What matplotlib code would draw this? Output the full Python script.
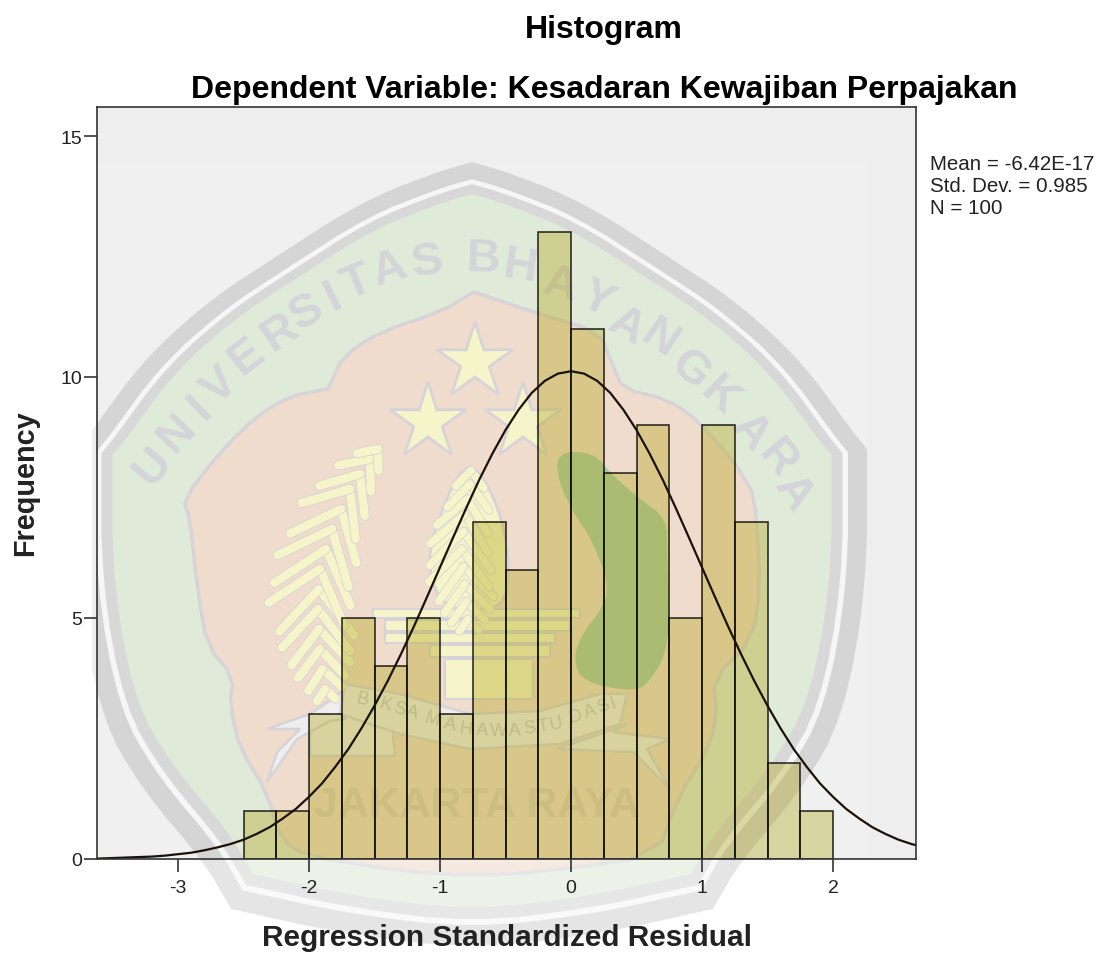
from matplotlib import pyplot as plt
from matplotlib import patheffects as pe
from matplotlib.patches import Polygon, Rectangle
import numpy as np

# data
bin_lefts = [-2.5, -2.25, -2.0, -1.75, -1.5, -1.25, -1.0, -0.75, -0.5, -0.25,
             0.0, 0.25, 0.5, 0.75, 1.0, 1.25, 1.5, 1.75]
freqs = [1, 1, 3, 5, 4, 5, 3, 7, 6, 13, 11, 8, 9, 5, 9, 7, 2, 1]
bin_width = 0.25

curve_x = [-3.7, -3.6, -3.5, -3.4, -3.3, -3.2, -3.1, -3.0, -2.9, -2.8, -2.7, -2.6, -2.5, -2.4,
           -2.3, -2.2, -2.1, -2.0, -1.9, -1.8, -1.7, -1.6, -1.5, -1.4, -1.3, -1.2, -1.1, -1.0,
           -0.9, -0.8, -0.7, -0.6, -0.5, -0.4, -0.3, -0.2, -0.1, 0.0, 0.1, 0.2, 0.3, 0.4, 0.5,
           0.6, 0.7, 0.8, 0.9, 1.0, 1.1, 1.2, 1.3, 1.4, 1.5, 1.6, 1.7, 1.8, 1.9, 2.0, 2.1, 2.2,
           2.3, 2.4, 2.5, 2.6, 2.7]
curve_y = [0.01, 0.01, 0.02, 0.03, 0.04, 0.05, 0.07, 0.10, 0.13, 0.18, 0.24, 0.31, 0.40, 0.52,
           0.66, 0.84, 1.04, 1.29, 1.57, 1.91, 2.28, 2.71, 3.18, 3.69, 4.24, 4.82, 5.43, 6.05,
           6.67, 7.28, 7.87, 8.41, 8.90, 9.32, 9.67, 9.92, 10.07, 10.12, 10.07, 9.92, 9.67, 9.32,
           8.90, 8.41, 7.87, 7.28, 6.67, 6.05, 5.43, 4.82, 4.24, 3.69, 3.18, 2.71, 2.28, 1.91,
           1.57, 1.29, 1.04, 0.84, 0.66, 0.52, 0.40, 0.31, 0.24]

x_ticks = [-3, -2, -1, 0, 1, 2]
y_ticks = [0, 5, 10, 15]
title = "Histogram"
subtitle = "Dependent Variable: Kesadaran Kewajiban Perpajakan"
x_label = "Regression Standardized Residual"
y_label = "Frequency"
stats = ["Mean = -6.42E-17", "Std. Dev. = 0.985", "N = 100"]

plt.rcParams['font.family'] = ['Liberation Sans', 'DejaVu Sans']

W, H = 1112, 954
fig = plt.figure(figsize=(W / 100, H / 100), dpi=100, facecolor='white')

# logo watermark, drawn behind the chart in pixel coordinates
bg = fig.add_axes([0, 0, 1, 1], zorder=0)
bg.set_xlim(0, W)
bg.set_ylim(H, 0)
bg.axis('off')

LINE = '#d6d4d8'
PALE = '#f6f5c9'


def rounded(pts, times=2):
    # corner cutting so the outlines are not so angular
    pts = np.array(pts, dtype=float)
    for _ in range(times):
        nxt = np.roll(pts, -1, axis=0)
        pts = np.column_stack((0.75 * pts + 0.25 * nxt, 0.25 * pts + 0.75 * nxt)).reshape(-1, 2)
    return pts


bg.add_patch(Rectangle((97, 108), 819, 752, fc='#eeeeee', ec='none'))
bg.add_patch(Rectangle((97, 162), 770, 698, fc='#f0f0f0', ec='none'))

# repeated points keep the sharp corners of the shield
right_half = [(472, 163), (472, 163), (510, 174), (583, 203), (667, 257), (733, 300), (800, 360),
              (853, 433), (867, 450), (867, 450), (867, 587), (843, 720), (800, 793), (740, 863),
              (713, 910), (713, 910), (600, 935), (472, 950)]
shield = rounded(right_half + [(2 * 472 - x, y) for x, y in right_half[-2:1:-1]] + [(472, 163)])
centre = np.array([472, 520])
for scale, col in [(1, '#d5d5d5'), (0.952, '#f6f6f6'), (0.938, '#d8d8d8'), (0.91, '#e0ead9')]:
    bg.add_patch(Polygon(centre + (shield - centre) * scale, fc=col, ec='none'))

pink = [(474, 293), (474, 293), (440, 313), (380, 333), (343, 357), (328, 390), (328, 390), (290, 397),
        (257, 417), (223, 450), (183, 500), (190, 520), (197, 587), (207, 647), (233, 677), (230, 707),
        (240, 750), (267, 793), (280, 840), (307, 857), (400, 872), (475, 877), (550, 872),
        (657, 857), (677, 800), (707, 753), (717, 717), (713, 680), (753, 640), (760, 587),
        (757, 520), (750, 483), (700, 423), (667, 400), (623, 390), (613, 367), (600, 333),
        (533, 313)]
bg.add_patch(Polygon(rounded(pink, 1), fc='#f0dccd', ec=LINE, lw=2.5))

leaf = [(557, 453), (593, 453), (613, 477), (640, 500), (667, 520), (667, 553), (670, 647),
        (650, 683), (633, 693), (583, 683), (573, 660), (583, 633), (600, 613), (610, 587),
        (590, 537), (577, 520), (558, 483)]
bg.add_patch(Polygon(rounded(leaf, 2), fc='#a8cca8', ec='none'))

# stars
for cx, cy in [(475, 363), (428, 423), (523, 423)]:
    ang = np.deg2rad(90 + 36 * np.arange(10))
    rad = np.where(np.arange(10) % 2 == 0, 40, 15)
    pts = np.column_stack((cx + rad * np.cos(ang), cy - rad * np.sin(ang)))
    bg.add_patch(Polygon(pts, fc=PALE, ec=LINE, lw=2))


# wheat ears
def ear(stem, tip_len, lw):
    stem = np.array(stem, dtype=float)
    for i in range(len(stem) - 1):
        for f in (0, 0.5):
            p = stem[i] + (stem[i + 1] - stem[i]) * f
            d = stem[i + 1] - stem[i]
            a = np.arctan2(d[1], d[0]) + np.pi
            size = tip_len * np.sin(np.pi * (i + f + 0.6) / (len(stem)))
            for side in (-0.7, 0.7):
                q = p + size * np.array([np.cos(a + side), np.sin(a + side)])
                bg.plot([p[0], q[0]], [p[1], q[1]], color=PALE, lw=lw, solid_capstyle='round',
                        path_effects=[pe.Stroke(linewidth=lw + 1.2, foreground=LINE), pe.Normal()])


flame = [(425, 565), (445, 500), (470, 458), (498, 505), (510, 560), (505, 612), (445, 612)]
bg.add_patch(Polygon(rounded(flame, 2), fc=PALE, ec=LINE, lw=2))
ear([(325, 690), (320, 650), (318, 610), (320, 570), (332, 530), (350, 490), (370, 460), (386, 440)], 62, 6)
ear([(468, 620), (465, 585), (462, 550), (465, 515), (470, 485), (472, 458)], 48, 5.5)

# base of the torch
for x0, y0, w, h in [(373, 610, 207, 9), (385, 621, 185, 11), (385, 634, 170, 10),
                     (430, 646, 120, 12), (445, 660, 88, 40)]:
    bg.add_patch(Rectangle((x0, y0), w, h, fc=PALE, ec=LINE, lw=1.5))

# ribbon
white = '#eeeeee'
ribbon = [(345, 685), (400, 695), (470, 715), (540, 712), (600, 695), (627, 695), (620, 725),
          (560, 745), (470, 750), (400, 735), (340, 715)]
tail_l = [(267, 730), (310, 715), (343, 693), (345, 720), (330, 722), (297, 740), (267, 783),
          (277, 753), (300, 730)]
tail_r = [(627, 725), (613, 733), (670, 740), (647, 750), (670, 790), (633, 753), (557, 750),
          (600, 735)]
low_l = [(310, 716), (345, 690), (390, 700), (395, 757), (310, 757)]
for poly in (low_l, tail_l, tail_r, ribbon):
    bg.add_patch(Polygon(poly, fc=white, ec=LINE, lw=1.8))

# ring text
ring_letters = [('U', 153, 467, 50), ('N', 177, 433, 46), ('I', 200, 408, 44), ('V', 220, 387, 42),
                ('E', 247, 357, 38), ('R', 280, 333, 34), ('S', 307, 313, 29), ('I', 333, 297, 27),
                ('T', 357, 283, 23), ('A', 390, 270, 17), ('S', 427, 263, 9), ('B', 483, 260, -2),
                ('H', 520, 267, -8), ('A', 560, 285, -14), ('Y', 597, 300, -25), ('A', 627, 327, -29),
                ('N', 660, 340, -34), ('G', 690, 370, -39), ('K', 720, 397, -43), ('A', 750, 433, -48),
                ('R', 777, 460, -51), ('A', 793, 493, -56)]
for ch, x, y, rot in ring_letters:
    bg.text(x, y, ch, fontsize=34, fontweight='bold', color='#d3d5d8', rotation=rot,
            ha='center', va='center')

ribbon_letters = [('B', 362, 700, -12), ('I', 374, 703, -14), ('K', 385, 705, -15), ('S', 399, 709, -17),
                  ('A', 412, 713, -18), ('M', 432, 720, -16), ('A', 450, 725, -12), ('H', 466, 729, -8),
                  ('A', 482, 731, -3), ('W', 498, 732, 0), ('A', 515, 731, 3), ('S', 530, 729, 7),
                  ('T', 543, 727, 10), ('U', 556, 724, 12), ('D', 576, 717, 16), ('A', 590, 712, 18),
                  ('S', 603, 707, 20), ('I', 613, 704, 20)]
for ch, x, y, rot in ribbon_letters:
    bg.text(x, y, ch, fontsize=13, color='#c9c9c9', rotation=rot, ha='center', va='center')

bg.text(477, 806, "JAKARTA RAYA", fontsize=31, fontweight='bold', color='#dccfc0',
        ha='center', va='center')

# the logo is lighter outside the plot frame
bg.add_patch(Rectangle((92, 861), W - 92, H - 861, fc='white', ec='none', alpha=0.4))
bg.add_patch(Rectangle((0, 0), 92, H, fc='white', ec='none'))
bg.add_patch(Rectangle((92, 108), 5, 753, fc='white', ec='none', alpha=0.6))

# chart
ax = fig.add_axes([97 / W, 1 - 860 / H, (916 - 97) / W, (860 - 108) / H], zorder=1)
ax.patch.set_alpha(0)

ax.bar(bin_lefts, freqs, width=bin_width, align='edge', color=(174 / 255, 160 / 255, 11 / 255, 0.35),
       edgecolor=(0, 0, 0, 0.8), linewidth=1.2)
ax.plot(curve_x, curve_y, color='#1a1208', lw=1.6)

ax.set_xlim((97 - 571) / 131, (916 - 571) / 131)
ax.set_ylim(0, (860 - 108) / 48.2)
ax.set_xticks(x_ticks)
ax.set_yticks(y_ticks)
ax.set_xticklabels([str(v) for v in x_ticks])
ax.set_yticklabels([str(v) for v in y_ticks])
ax.tick_params(axis='both', length=9.5, width=1.1, color='#222222', labelsize=14, labelcolor='#222222')
ax.tick_params(axis='x', pad=5)
ax.tick_params(axis='y', pad=1)
for side in ax.spines:
    ax.spines[side].set_linewidth(1.2)
    ax.spines[side].set_color('#333333')

fig.text(604 / W, 1 - 30 / H, title, fontsize=23, fontweight='bold', ha='center', va='center')
fig.text(604 / W, 1 - 90 / H, subtitle, fontsize=23, fontweight='bold', ha='center', va='center')
fig.text(507 / W, 1 - 938 / H, x_label, fontsize=21.4, fontweight='bold', ha='center', va='center', color='#222222')
fig.text(25 / W, 1 - 483 / H, y_label, fontsize=20.8, fontweight='bold', rotation=90, ha='center', va='center', color='#222222')
for i, line in enumerate(stats):
    fig.text(930 / W, 1 - (165 + 22 * i) / H, line, fontsize=14.8, ha='left', va='center', color='#222222')

fig.savefig('out.png', dpi=100)
